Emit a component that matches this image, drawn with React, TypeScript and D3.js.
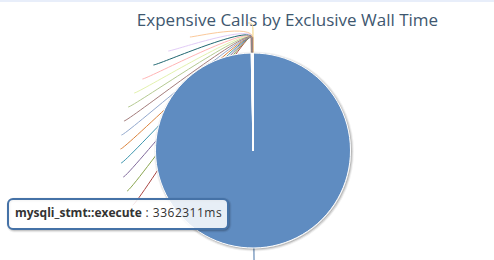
import React from 'react';
import * as d3 from 'd3';

const chartTitle = 'Expensive Calls by Exclusive Wall Time';
const sliceNames = [
  'mysqli_stmt::execute',
  'mysqli::query',
  'mysqli_stmt::fetch',
  'curl_exec',
  'file_get_contents',
  'PDOStatement::execute',
  'mysqli::prepare',
  'session_start',
  'fopen',
  'preg_match',
  'include',
  'json_encode',
  'str_replace',
  'unserialize',
  'array_map',
];
const sliceValues = [3362311, 2100, 1400, 1150, 980, 860, 720, 640, 510, 430, 380, 300, 240, 190, 150];
const palette = [
  '#4572A7', '#AA4643', '#89A54E', '#80699B', '#3D96AE', '#DB843D', '#92A8CD', '#A47D7C',
  '#B5CA92', '#E3F2AE', '#FFB5B5', '#1F6670', '#E2CCF7', '#FBC99A', '#F5D27A',
];
const hoveredIndex = 0;
const valueUnit = 'ms';

function brighten(hex: string, amt: number) {
  const c = d3.rgb(hex);
  return d3.rgb(Math.min(255, c.r + 255 * amt), Math.min(255, c.g + 255 * amt), Math.min(255, c.b + 255 * amt)).formatHex();
}

export default function App() {
  const W = 494;
  const H = 260;
  const cx = 253;
  const cy = 150.5;
  const r = 97.5;
  const dist = 30;
  const slot = 14;

  const arcs = d3.pie<number>().sort(null).value((d) => d).startAngle(0).endAngle(2 * Math.PI)(sliceValues);
  const arcGen = d3.arc<d3.PieArcDatum<number>>().innerRadius(0).outerRadius(r);

  const polar = (a: number, rad: number) => [cx + rad * Math.sin(a), cy - rad * Math.cos(a)];
  const R = r + dist;

  // left-half label slots, stacked from the top
  const leftIdx = arcs
    .map((a, i) => ({ i, mid: (a.startAngle + a.endAngle) / 2 }))
    .filter((d) => d.mid > Math.PI)
    .sort((a, b) => b.mid - a.mid);
  const slotY: Record<number, number> = {};
  leftIdx.forEach((d, k) => {
    slotY[d.i] = cy - R + k * slot;
  });

  const connectors = arcs.map((a, i) => {
    const mid = (a.startAngle + a.endAngle) / 2;
    const [ex, ey] = polar(mid, r);
    const [bx, by] = polar(mid, r + dist / 2);
    const left = mid > Math.PI;
    const ly = left ? slotY[i] : polar(mid, R)[1];
    const dy = ly - cy;
    const lx = cx + (left ? -1 : 1) * Math.sqrt(Math.max(0, R * R - dy * dy));
    const sx = lx + (left ? -5 : 5);
    const d = `M${sx},${ly}C${lx},${ly} ${2 * bx - ex},${2 * by - ey} ${bx},${by}L${ex},${ey}`;
    return { d, color: palette[i % palette.length], i };
  });
  const drawOrder = [...connectors.filter((c) => c.i !== 7), connectors[7]];

  const hovered = arcs[hoveredIndex];
  const tipColor = palette[hoveredIndex];

  const tipX = 8;
  const tipY = 199;
  const tipW = 220;
  const tipH = 30;

  return (
    <div style={{ position: 'fixed', left: 0, top: 0, width: W, height: H, background: '#fff' }}>
      <svg width={W} height={H} style={{ display: 'block', fontFamily: '"Open Sans", "DejaVu Sans", sans-serif' }}>
        <rect x={0} y={0} width={W} height={H} fill="#ffffff" />
        <rect x={0} y={0} width={W} height={2} fill="#e8eefa" />
        <text x={287.5} y={26} textAnchor="middle" fontSize={17} fill="#3E576F">
          {chartTitle}
        </text>
        {/* connectors */}
        <g fill="none" strokeWidth={1}>
          {drawOrder.map((c) => (
            <path key={c.i} d={c.d} stroke={c.color} />
          ))}
        </g>
        {/* shadows */}
        <g transform="translate(1,1)" fill="none" stroke="#000">
          {[5, 3, 1].map((w, k) => (
            <circle key={w} cx={cx} cy={cy} r={r} strokeWidth={w} strokeOpacity={0.05 * (k + 1)} />
          ))}
        </g>
        {/* slices */}
        <g transform={`translate(${cx},${cy})`}>
          {arcs.map((a, i) => (
            <path
              key={i}
              d={arcGen(a) || ''}
              fill={i === hoveredIndex ? brighten(palette[i], 0.1) : palette[i % palette.length]}
              stroke="#ffffff"
              strokeWidth={1}
              strokeLinejoin="round"
            />
          ))}
        </g>
        {/* tooltip */}
        <g>
          {[5, 3, 1].map((w, k) => (
            <rect
              key={w}
              x={tipX + 1}
              y={tipY + 1}
              width={tipW}
              height={tipH}
              rx={5}
              fill="none"
              stroke="#000"
              strokeWidth={w}
              strokeOpacity={0.05 * (k + 1)}
            />
          ))}
          <rect x={tipX} y={tipY} width={tipW} height={tipH} rx={5} fill="rgba(255,255,255,0.85)" stroke={tipColor} strokeWidth={2} />
          <text x={tipX + 7} y={tipY + 18} fontSize={12} fill="#333333">
            <tspan fontWeight="bold">{sliceNames[hoveredIndex]}</tspan>
            <tspan letterSpacing={0.5}>{` : ${hovered.data}${valueUnit}`}</tspan>
          </text>
        </g>
      </svg>
    </div>
  );
}
